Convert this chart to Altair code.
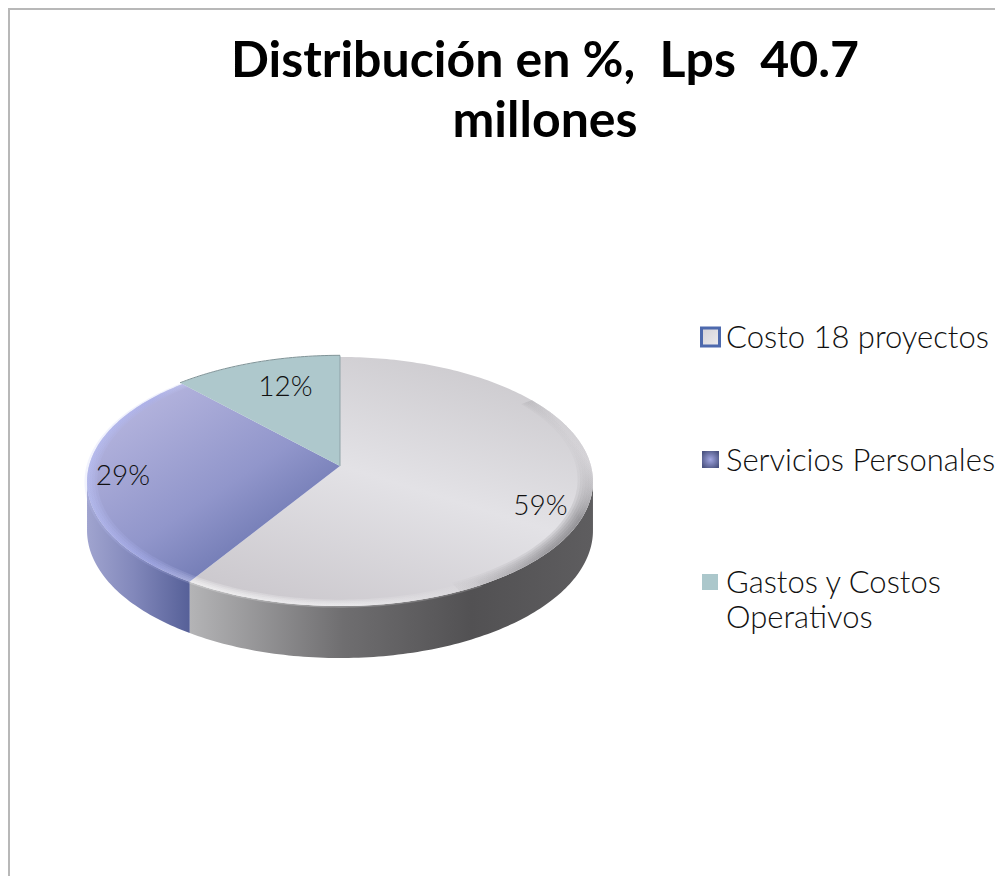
import math
import altair as alt
import pandas as pd

categories = ["Costo 18 proyectos", "Servicios Personales", "Gastos y Costos Operativos"]
shares = [59, 29, 12]
title_lines = ["Distribución en %,\u00a0 Lps\u00a0 40.7", "millones"]
legend_lines = [["Costo 18 proyectos"], ["Servicios Personales"], ["Gastos y Costos", "Operativos"]]

FONT = "Lato"
W, H = 987, 868
x_sc = alt.Scale(domain=[8, 8 + W], range=[0, W], nice=False, zero=False)
y_sc = alt.Scale(domain=[8, 8 + H], range=[0, H], nice=False, zero=False)
X = alt.X("x:Q", scale=x_sc, axis=None)
Y = alt.Y("y:Q", scale=y_sc, axis=None)


def proj(theta_deg, r=1.0, drop=0.0):
    t = math.radians(theta_deg)
    sx, cy = r * math.sin(t), r * math.cos(t)
    den = 1 + 0.1245 * cy
    return 340 + 251 * sx / den, 482 - (124.6 * cy + 16) / den + drop


def grad(stops, x1=0, y1=0, x2=1, y2=0):
    return {"gradient": "linear", "x1": x1, "y1": y1, "x2": x2, "y2": y2,
            "stops": [{"offset": o, "color": c} for o, c in stops]}


def poly(points, **mark):
    df = pd.DataFrame({"x": [p[0] for p in points], "y": [p[1] for p in points], "i": range(len(points))})
    return alt.Chart(df).mark_line(**mark).encode(x=X, y=Y, order="i:Q")


def arc(a, b, r=1.0, drop=0.0):
    n = max(2, int(abs(b - a)))
    return [proj(a + (b - a) * k / n, r, drop) for k in range(n + 1)]


def wall(a, b, fill):
    pts = arc(a, b) + [(x, y + 49 - 3 * ((y - 482) / -124)) for x, y in reversed(arc(a, b))]
    return poly(pts + pts[:1], fill=fill, stroke=None, strokeWidth=0)


def band(a, b, r, fill, opacity):
    pts = arc(a, b, 1.0) + list(reversed(arc(a, b, r)))
    return poly(pts + pts[:1], fill=fill, stroke=None, strokeWidth=0, opacity=opacity)


cum = [0]
for s in shares:
    cum.append(cum[-1] + s * 3.6)
apex = proj(0, 0)

layers = [
    wall(97, cum[1], grad([(0, "#5e5d5f"), (0.3, "#525153"), (0.62, "#6f6e70"), (1, "#b4b4b6")], 1, 0, 0, 0)),
    wall(cum[1], 263, grad([(0, "#a0a4cf"), (0.45, "#8288bb"), (1, "#566098")])),
]

# top faces
faces = [
    grad([(0, "#cbc9cd"), (0.5, "#e3e2e6"), (1, "#ccc9ce")], 0.75, 0, 0.25, 1),
    grad([(0, "#b9b8e0"), (0.55, "#9196cb"), (1, "#5e6aa6")], 0.1, 0.05, 0.85, 0.95),
    "#aec8cc",
]
for k in range(3):
    rr = 1.015 if k == 2 else 1.0
    pts = [apex] + arc(cum[k], cum[k + 1], rr) + [apex]
    layers.append(poly(pts, fill=faces[k], stroke=None, strokeWidth=0))

# bevel along the rim
bevel_light = grad([(0, "#ffffff"), (0.55, "#f7f7f8"), (1, "#d6d4d8")])
bevel_dark = grad([(0, "#d2d0d4"), (0.18, "#d2d0d4"), (0.36, "#6f6e72"), (0.55, "#77767a"), (1, "#cfcdd1")], 1, 0, 0, 1)
bevel_blue = grad([(0, "#bcc3f7"), (0.6, "#aab1f0"), (1, "#c9cdf0")])
for r in [0.94, 0.95, 0.96, 0.97, 0.98, 0.99]:
    layers.append(band(55, 155, r, bevel_dark, 0.16))
    layers.append(band(150, cum[1], r + 0.02, bevel_light, 0.22))
    layers.append(band(cum[1], cum[2], r + 0.02, bevel_blue, 0.2))
layers.append(poly([apex, proj(0, 1.015)], stroke="#8fa3a8", strokeWidth=1))
layers.append(poly(arc(cum[2], 360, 1.017), stroke="#7f9397", strokeWidth=1))

# percentage labels
offs = [(0.8, 2, 13), (0.86, 0, 1), (0.8, 13, 5)]
for k, s in enumerate(shares):
    px, py = proj((cum[k] + cum[k + 1]) / 2, offs[k][0])
    d = pd.DataFrame({"x": [px], "y": [py], "t": [f"{s}%"]})
    layers.append(alt.Chart(d).mark_text(font=FONT, fontSize=28, fontWeight=300, color="#111111",
                                         dx=offs[k][1], dy=offs[k][2])
                  .encode(x=X, y=Y, text="t:N"))

# frame
layers.append(alt.Chart(pd.DataFrame({"x": [9], "y": [8], "y2": [8 + H]})).mark_rule(color="#b8b8b8", strokeWidth=2)
              .encode(x=X, y=Y, y2="y2:Q"))
layers.append(alt.Chart(pd.DataFrame({"x": [8], "x2": [8 + W], "y": [9]})).mark_rule(color="#b8b8b8", strokeWidth=2)
              .encode(x=X, x2="x2:Q", y=Y))

# legend
sym_x = [710.5, 710.5, 710]
sym_y = [337, 459.5, 582]
fills = [
    grad([(0, "#d3d1d6"), (1, "#ecebee")], 0, 0, 1, 1),
    {"gradient": "radial", "x1": 0.5, "y1": 0.5, "x2": 0.5, "y2": 0.5, "r1": 0, "r2": 0.6,
     "stops": [{"offset": 0, "color": "#a2a7e2"}, {"offset": 1, "color": "#4c5482"}]},
    "#abc7cb",
]
sizes = [324, 289, 256]
for k in range(3):
    d = pd.DataFrame({"x": [sym_x[k]], "y": [sym_y[k]]})
    kw = {"stroke": "#4d69ad", "strokeWidth": 3} if k == 0 else {"strokeWidth": 0}
    layers.append(alt.Chart(d).mark_point(shape="square", filled=True, size=sizes[k], fill=fills[k], opacity=1, **kw)
                  .encode(x=X, y=Y))
    for j, line in enumerate(legend_lines[k]):
        d2 = pd.DataFrame({"x": [726], "y": [sym_y[k] + 2 + 35 * j], "t": [line]})
        layers.append(alt.Chart(d2).mark_text(font=FONT, fontSize=31, fontWeight=300, align="left",
                                              baseline="middle", color="#111111")
                      .encode(x=X, y=Y, text="t:N"))

# title
for j, line in enumerate(title_lines):
    d = pd.DataFrame({"x": [545], "y": [62 + 60 * j], "t": [line]})
    layers.append(alt.Chart(d).mark_text(font=FONT, fontSize=50, fontWeight="bold", color="#000000", baseline="middle")
                  .encode(x=X, y=Y, text="t:N"))

chart = (alt.layer(*layers)
         .properties(width=W, height=H, padding=0, autosize=alt.AutoSizeParams(type="none"))
         .configure_view(stroke=None))
chart.save("out.html", embed_options={"renderer": "svg", "actions": False})
